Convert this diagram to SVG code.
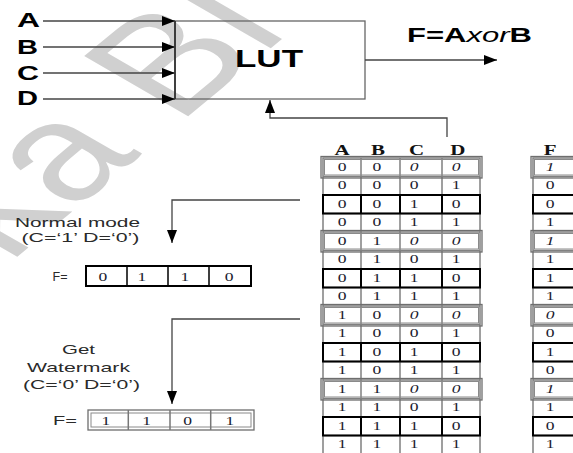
<svg xmlns="http://www.w3.org/2000/svg" width="573" height="453" viewBox="0 0 573 453">
<style>
.lbl{font-family:"Liberation Sans",Arial,sans-serif;font-weight:bold;fill:#000}
.note{font-family:"Liberation Sans",Arial,sans-serif;font-size:13px;fill:#2a2a2a;text-anchor:middle}
.hd{font-family:"Liberation Serif","Times New Roman",serif;font-weight:bold;font-size:15px;fill:#111;text-anchor:middle}
.d{font-family:"Liberation Serif","Times New Roman",serif;font-size:13.5px;fill:#1a1a2e;text-anchor:middle}
.i{font-style:italic}
.con{fill:none;stroke:#444;stroke-width:1.3}
.g{stroke:#808080;stroke-width:1.5;fill:none}
.k{stroke:#000;stroke-width:2;fill:none}
.o1{stroke:#6e6e6e;stroke-width:1.3;fill:none}
.o2{stroke:#8a8a8a;stroke-width:1;fill:none}
</style>
<defs>
<marker id="arr" markerUnits="userSpaceOnUse" markerWidth="13" markerHeight="10" refX="13" refY="5" orient="auto">
<path d="M0,0 L13,5 L0,10 z" fill="#000"/>
</marker>
</defs>
<rect width="573" height="453" fill="#fff"/>
<text transform="translate(8.7 263.8) scale(1.45 1) rotate(-50)" font-family="Liberation Sans,Arial,sans-serif" font-size="136" fill="#d0d0d0">ka Bl</text>

<g id="inputs">
<text class="lbl" font-size="19.5" x="17" y="27" textLength="23" lengthAdjust="spacingAndGlyphs">A</text>
<text class="lbl" font-size="19.5" x="17" y="53.5" textLength="21" lengthAdjust="spacingAndGlyphs">B</text>
<text class="lbl" font-size="19.5" x="17" y="79.5" textLength="22" lengthAdjust="spacingAndGlyphs">C</text>
<text class="lbl" font-size="19.5" x="17" y="105" textLength="21" lengthAdjust="spacingAndGlyphs">D</text>
</g>

<g id="lut">
<rect x="175" y="21" width="190" height="78" fill="none" stroke="#666" stroke-width="1.3"/>
<line x1="175" y1="21" x2="175" y2="99" stroke="#222" stroke-width="1.5"/>
<text class="lbl" font-size="24" x="235" y="67" textLength="68" lengthAdjust="spacingAndGlyphs">LUT</text>
</g>

<g id="func">
<text class="lbl" font-size="21" transform="translate(407 41.5) scale(1.478 1)">F=A<tspan font-style="italic" font-weight="normal">xor</tspan>B</text>
</g>

<g id="connectors">
<line class="con" x1="43" y1="21" x2="175" y2="21" marker-end="url(#arr)"/>
<line class="con" x1="43" y1="47" x2="175" y2="47" marker-end="url(#arr)"/>
<line class="con" x1="43" y1="73" x2="175" y2="73" marker-end="url(#arr)"/>
<line class="con" x1="43" y1="99" x2="175" y2="99" marker-end="url(#arr)"/>
<line class="con" x1="365" y1="60" x2="497" y2="60" marker-end="url(#arr)"/>
<polyline class="con" points="447,137 447,118 270,118 270,100" marker-end="url(#arr)"/>
<polyline class="con" points="300,200 172,200 172,243" marker-end="url(#arr)"/>
<polyline class="con" points="300,319 172,319 172,404" marker-end="url(#arr)"/>
</g>

<g id="truth-table">
<g transform="scale(1.4 1)">
<text class="hd" x="244.3" y="155">A</text>
<text class="hd" x="270" y="155">B</text>
<text class="hd" x="297.6" y="155">C</text>
<text class="hd" x="327.1" y="155">D</text>
<text class="hd" x="392.9" y="155">F</text>
</g>
<rect class="g" x="323" y="158" width="157" height="296" stroke-width="2"/>
<path class="g" d="M361,158V454M400,158V454M442,158V454M323,176.5H480M323,195H480M323,213.5H480M323,232H480M323,250.5H480M323,269H480M323,287.5H480M323,306H480M323,324.5H480M323,343H480M323,361.5H480M323,380H480M323,398.5H480M323,417H480M323,435.5H480"/>
<rect class="g" x="533" y="158" width="42" height="296" stroke-width="2"/>
<path class="g" d="M533,176.5H573M533,195H573M533,213.5H573M533,232H573M533,250.5H573M533,269H573M533,287.5H573M533,306H573M533,324.5H573M533,343H573M533,361.5H573M533,380H573M533,398.5H573M533,417H573M533,435.5H573"/>
<g class="k">
<rect x="323" y="195" width="157" height="18.5"/><path d="M361,195v18.5M400,195v18.5M442,195v18.5"/>
<rect x="323" y="269" width="157" height="18.5"/><path d="M361,269v18.5M400,269v18.5M442,269v18.5"/>
<rect x="323" y="343" width="157" height="18.5"/><path d="M361,343v18.5M400,343v18.5M442,343v18.5"/>
<rect x="323" y="417" width="157" height="18.5"/><path d="M361,417v18.5M400,417v18.5M442,417v18.5"/>
<rect x="533" y="195" width="42" height="18.5"/>
<rect x="533" y="269" width="42" height="18.5"/>
<rect x="533" y="343" width="42" height="18.5"/>
<rect x="533" y="417" width="42" height="18.5"/>
</g>
<g>
<rect class="o1" x="321" y="156.5" width="161" height="21.5"/><rect class="o2" x="324.5" y="159.5" width="154" height="15.5"/>
<rect class="o1" x="321" y="230.5" width="161" height="21.5"/><rect class="o2" x="324.5" y="233.5" width="154" height="15.5"/>
<rect class="o1" x="321" y="304.5" width="161" height="21.5"/><rect class="o2" x="324.5" y="307.5" width="154" height="15.5"/>
<rect class="o1" x="321" y="378.5" width="161" height="21.5"/><rect class="o2" x="324.5" y="381.5" width="154" height="15.5"/>
<rect class="o1" x="531" y="156.5" width="44" height="21.5"/><rect class="o2" x="534.5" y="159.5" width="44" height="15.5"/>
<rect class="o1" x="531" y="230.5" width="44" height="21.5"/><rect class="o2" x="534.5" y="233.5" width="44" height="15.5"/>
<rect class="o1" x="531" y="304.5" width="44" height="21.5"/><rect class="o2" x="534.5" y="307.5" width="44" height="15.5"/>
<rect class="o1" x="531" y="378.5" width="44" height="21.5"/><rect class="o2" x="534.5" y="381.5" width="44" height="15.5"/>
</g>
<g transform="scale(1.3 1)">
<text class="d" x="263.1" y="170.8">0</text><text class="d" x="290" y="170.8">0</text><text class="d i" x="318.5" y="170.8">0</text><text class="d i" x="350.8" y="170.8">0</text><text class="d i" x="423.1" y="170.8">1</text>
<text class="d" x="263.1" y="189.3">0</text><text class="d" x="290" y="189.3">0</text><text class="d" x="318.5" y="189.3">0</text><text class="d" x="350.8" y="189.3">1</text><text class="d" x="423.1" y="189.3">0</text>
<text class="d" x="263.1" y="207.8">0</text><text class="d" x="290" y="207.8">0</text><text class="d" x="318.5" y="207.8">1</text><text class="d" x="350.8" y="207.8">0</text><text class="d" x="423.1" y="207.8">0</text>
<text class="d" x="263.1" y="226.3">0</text><text class="d" x="290" y="226.3">0</text><text class="d" x="318.5" y="226.3">1</text><text class="d" x="350.8" y="226.3">1</text><text class="d" x="423.1" y="226.3">1</text>
<text class="d" x="263.1" y="244.8">0</text><text class="d" x="290" y="244.8">1</text><text class="d i" x="318.5" y="244.8">0</text><text class="d i" x="350.8" y="244.8">0</text><text class="d i" x="423.1" y="244.8">1</text>
<text class="d" x="263.1" y="263.3">0</text><text class="d" x="290" y="263.3">1</text><text class="d" x="318.5" y="263.3">0</text><text class="d" x="350.8" y="263.3">1</text><text class="d" x="423.1" y="263.3">1</text>
<text class="d" x="263.1" y="281.8">0</text><text class="d" x="290" y="281.8">1</text><text class="d" x="318.5" y="281.8">1</text><text class="d" x="350.8" y="281.8">0</text><text class="d" x="423.1" y="281.8">1</text>
<text class="d" x="263.1" y="300.3">0</text><text class="d" x="290" y="300.3">1</text><text class="d" x="318.5" y="300.3">1</text><text class="d" x="350.8" y="300.3">1</text><text class="d" x="423.1" y="300.3">1</text>
<text class="d" x="263.1" y="318.8">1</text><text class="d" x="290" y="318.8">0</text><text class="d i" x="318.5" y="318.8">0</text><text class="d i" x="350.8" y="318.8">0</text><text class="d i" x="423.1" y="318.8">0</text>
<text class="d" x="263.1" y="337.3">1</text><text class="d" x="290" y="337.3">0</text><text class="d" x="318.5" y="337.3">0</text><text class="d" x="350.8" y="337.3">1</text><text class="d" x="423.1" y="337.3">0</text>
<text class="d" x="263.1" y="355.8">1</text><text class="d" x="290" y="355.8">0</text><text class="d" x="318.5" y="355.8">1</text><text class="d" x="350.8" y="355.8">0</text><text class="d" x="423.1" y="355.8">1</text>
<text class="d" x="263.1" y="374.3">1</text><text class="d" x="290" y="374.3">0</text><text class="d" x="318.5" y="374.3">1</text><text class="d" x="350.8" y="374.3">1</text><text class="d" x="423.1" y="374.3">0</text>
<text class="d" x="263.1" y="392.8">1</text><text class="d" x="290" y="392.8">1</text><text class="d i" x="318.5" y="392.8">0</text><text class="d i" x="350.8" y="392.8">0</text><text class="d i" x="423.1" y="392.8">1</text>
<text class="d" x="263.1" y="411.3">1</text><text class="d" x="290" y="411.3">1</text><text class="d" x="318.5" y="411.3">0</text><text class="d" x="350.8" y="411.3">1</text><text class="d" x="423.1" y="411.3">1</text>
<text class="d" x="263.1" y="429.8">1</text><text class="d" x="290" y="429.8">1</text><text class="d" x="318.5" y="429.8">1</text><text class="d" x="350.8" y="429.8">0</text><text class="d" x="423.1" y="429.8">0</text>
<text class="d" x="263.1" y="448.3">1</text><text class="d" x="290" y="448.3">1</text><text class="d" x="318.5" y="448.3">1</text><text class="d" x="350.8" y="448.3">1</text><text class="d" x="423.1" y="448.3">1</text>
</g>
</g>

<g id="normal-mode">
<text class="note" x="77.5" y="227" textLength="125" lengthAdjust="spacingAndGlyphs">Normal mode</text>
<text class="note" x="80.5" y="242" textLength="118" lengthAdjust="spacingAndGlyphs">(C=‘1’ D=‘0’)</text>
<text class="note" x="60" y="281" textLength="15" lengthAdjust="spacingAndGlyphs">F=</text>
<rect x="86" y="266" width="165" height="20" fill="none" stroke="#000" stroke-width="2"/>
<path d="M127,266v20M168,266v20M209,266v20" stroke="#000" stroke-width="1.5"/>
<g transform="scale(1.3 1)">
<text class="d" x="79.2" y="281">0</text>
<text class="d" x="109.2" y="281">1</text>
<text class="d" x="142.3" y="281">1</text>
<text class="d" x="176.2" y="281">0</text>
</g>
</g>

<g id="watermark-mode">
<text class="note" x="78.5" y="353.5" textLength="33" lengthAdjust="spacingAndGlyphs">Get</text>
<text class="note" x="78.5" y="371.5" textLength="103" lengthAdjust="spacingAndGlyphs">Watermark</text>
<text class="note" x="81.5" y="389" textLength="117" lengthAdjust="spacingAndGlyphs">(C=‘0’ D=‘0’)</text>
<text class="note" x="65" y="424.5" textLength="24" lengthAdjust="spacingAndGlyphs">F=</text>
<rect class="o1" x="88" y="410" width="166" height="20"/>
<rect class="o2" x="91" y="413" width="160" height="14"/>
<path d="M128.3,410v20M170,410v20M210.7,410v20" stroke="#777" stroke-width="1.5"/>
<g transform="scale(1.3 1)">
<text class="d" x="81.5" y="425">1</text>
<text class="d" x="112.8" y="425">1</text>
<text class="d" x="144.4" y="425">0</text>
<text class="d" x="176.9" y="425">1</text>
</g>
</g>
</svg>
